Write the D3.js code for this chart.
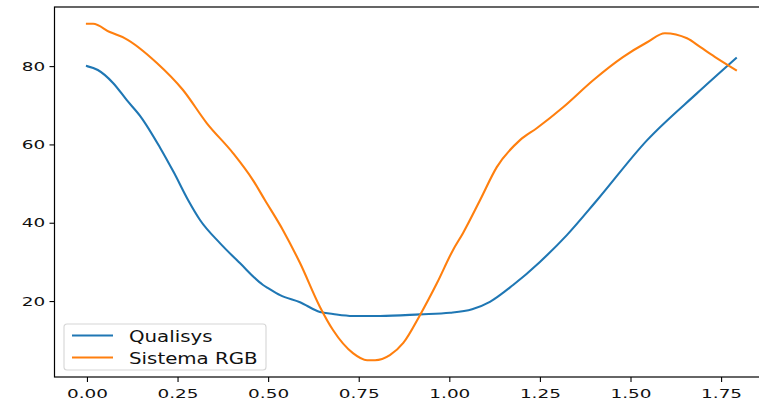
<!DOCTYPE html>
<html>
<head>
<meta charset="utf-8">
<script src="https://cdn.jsdelivr.net/npm/d3@7"></script>
<style>
  html, body { margin: 0; padding: 0; background: #fff; overflow: hidden; }
  svg { display: block; }
</style>
</head>
<body>
<svg id="chart" width="759" height="405"></svg>
<script>
// ---- data ----
const seriesNames = ["Qualisys", "Sistema RGB"];
const seriesColors = ["#1f77b4", "#ff7f0e"];

const qualisysT = [0, 0.03, 0.072, 0.11, 0.149, 0.201, 0.24, 0.279, 0.312, 0.367, 0.422, 0.486, 0.5, 0.533, 0.588, 0.643, 0.679, 0.734, 0.809, 0.919, 1.002, 1.063, 1.112, 1.176, 1.25, 1.325, 1.408, 1.546, 1.684, 1.791];
const qualisysV = [80, 79, 75.7, 71.3, 67.0, 59.3, 52.8, 45.8, 40.7, 34.8, 29.7, 24.1, 23.3, 21.5, 19.7, 17.2, 16.7, 16.2, 16.2, 16.6, 17.0, 17.9, 19.8, 24.1, 30.0, 36.9, 45.8, 61.1, 73.1, 82.0];

const rgbT = [0, 0.017, 0.063, 0.105, 0.193, 0.265, 0.331, 0.403, 0.458, 0.491, 0.541, 0.588, 0.643, 0.679, 0.734, 0.773, 0.795, 0.836, 0.873, 0.919, 0.966, 1.01, 1.038, 1.085, 1.131, 1.195, 1.242, 1.314, 1.397, 1.479, 1.546, 1.595, 1.656, 1.692, 1.739, 1.791];
const rgbV = [90.8, 90.8, 88.7, 87.1, 80.8, 73.9, 65.4, 57.8, 50.9, 45.8, 38.1, 29.7, 18.5, 12.6, 6.7, 4.9, 4.9, 6.2, 9.3, 16.4, 24.6, 33.0, 37.4, 45.8, 54.2, 61.1, 64.2, 69.5, 76.4, 82.3, 86.1, 88.4, 87.1, 84.9, 82.0, 79.0];

const xTicks = [0, 0.25, 0.5, 0.75, 1.0, 1.25, 1.5, 1.75];
const yTicks = [20, 40, 60, 80];

// ---- layout ----
const plot = { left: 54.5, right: 768.4, top: 7, bottom: 377 };
const tickFont = 12.3, tickStretch = 1.5;
const legendFont = 16.5, legendStretch = 1.2;

const svg = d3.select("#chart");

function padded(arr) {
  const lo = d3.min(arr), hi = d3.max(arr), m = (hi - lo) * 0.05;
  return [lo - m, hi + m];
}
const allT = qualisysT.concat(rgbT);
const allV = qualisysV.concat(rgbV);
const x = d3.scaleLinear().domain(padded(allT)).range([plot.left, plot.right]);
const y = d3.scaleLinear().domain(padded(allV)).range([plot.bottom, plot.top]);

// stretch text horizontally around its anchor
function stretch(sel, s) {
  sel.each(function () {
    const t = d3.select(this);
    const tx = +t.attr("x") || 0;
    t.attr("x", 0).attr("transform", `translate(${tx},0) scale(${s},1)`);
  });
}

// ---- lines ----
const series = [
  { name: seriesNames[0], color: seriesColors[0], pts: qualisysT.map((t, i) => [t, qualisysV[i]]) },
  { name: seriesNames[1], color: seriesColors[1], pts: rgbT.map((t, i) => [t, rgbV[i]]) }
];
const line = d3.line().x(d => x(d[0])).y(d => y(d[1])).curve(d3.curveMonotoneX);

svg.append("g").selectAll("path").data(series).join("path")
  .attr("d", d => line(d.pts))
  .attr("fill", "none")
  .attr("stroke", d => d.color)
  .attr("stroke-width", 2.1)
  .attr("stroke-linejoin", "round")
  .attr("stroke-linecap", "square");

// ---- axes ----
const xAxis = svg.append("g")
  .attr("transform", `translate(0,${plot.bottom})`)
  .call(d3.axisBottom(x).tickValues(xTicks).tickFormat(d3.format(".2f")).tickSize(5).tickPadding(7.5).tickSizeOuter(0));
const yAxis = svg.append("g")
  .attr("transform", `translate(${plot.left},0)`)
  .call(d3.axisLeft(y).tickValues(yTicks).tickFormat(d3.format("d")).tickSize(5).tickPadding(4.3).tickSizeOuter(0));

[xAxis, yAxis].forEach(a => {
  a.select(".domain").remove();
  a.selectAll(".tick line").attr("stroke", "#000").attr("stroke-width", 1.1);
  a.selectAll(".tick text")
    .attr("fill", "#111")
    .style("font-family", "'DejaVu Sans', sans-serif")
    .style("font-size", tickFont + "px");
});
stretch(xAxis.selectAll(".tick text"), tickStretch);
stretch(yAxis.selectAll(".tick text"), tickStretch);

// ---- spines ----
svg.append("rect")
  .attr("x", plot.left).attr("y", plot.top)
  .attr("width", plot.right - plot.left).attr("height", plot.bottom - plot.top)
  .attr("fill", "none").attr("stroke", "#000").attr("stroke-width", 1.2);

// ---- legend ----
const lg = svg.append("g").attr("transform", "translate(64,324)");
lg.append("rect")
  .attr("x", 0).attr("y", 0).attr("width", 202).attr("height", 46)
  .attr("rx", 3).attr("ry", 3)
  .attr("fill", "#fff").attr("fill-opacity", 0.8)
  .attr("stroke", "#d6d6d6").attr("stroke-width", 1.1);
const items = lg.selectAll("g.item").data(series).join("g")
  .attr("class", "item")
  .attr("transform", (d, i) => `translate(0,${11.5 + i * 22})`);
items.append("line")
  .attr("x1", 8).attr("x2", 49).attr("y1", 0).attr("y2", 0)
  .attr("stroke", d => d.color).attr("stroke-width", 2.1);
const ltext = items.append("text")
  .attr("x", 65).attr("y", 0).attr("dy", "0.38em")
  .attr("fill", "#111")
  .style("font-family", "'DejaVu Sans', sans-serif")
  .style("font-size", legendFont + "px")
  .text(d => d.name);
stretch(ltext, legendStretch);
</script>
</body>
</html>
